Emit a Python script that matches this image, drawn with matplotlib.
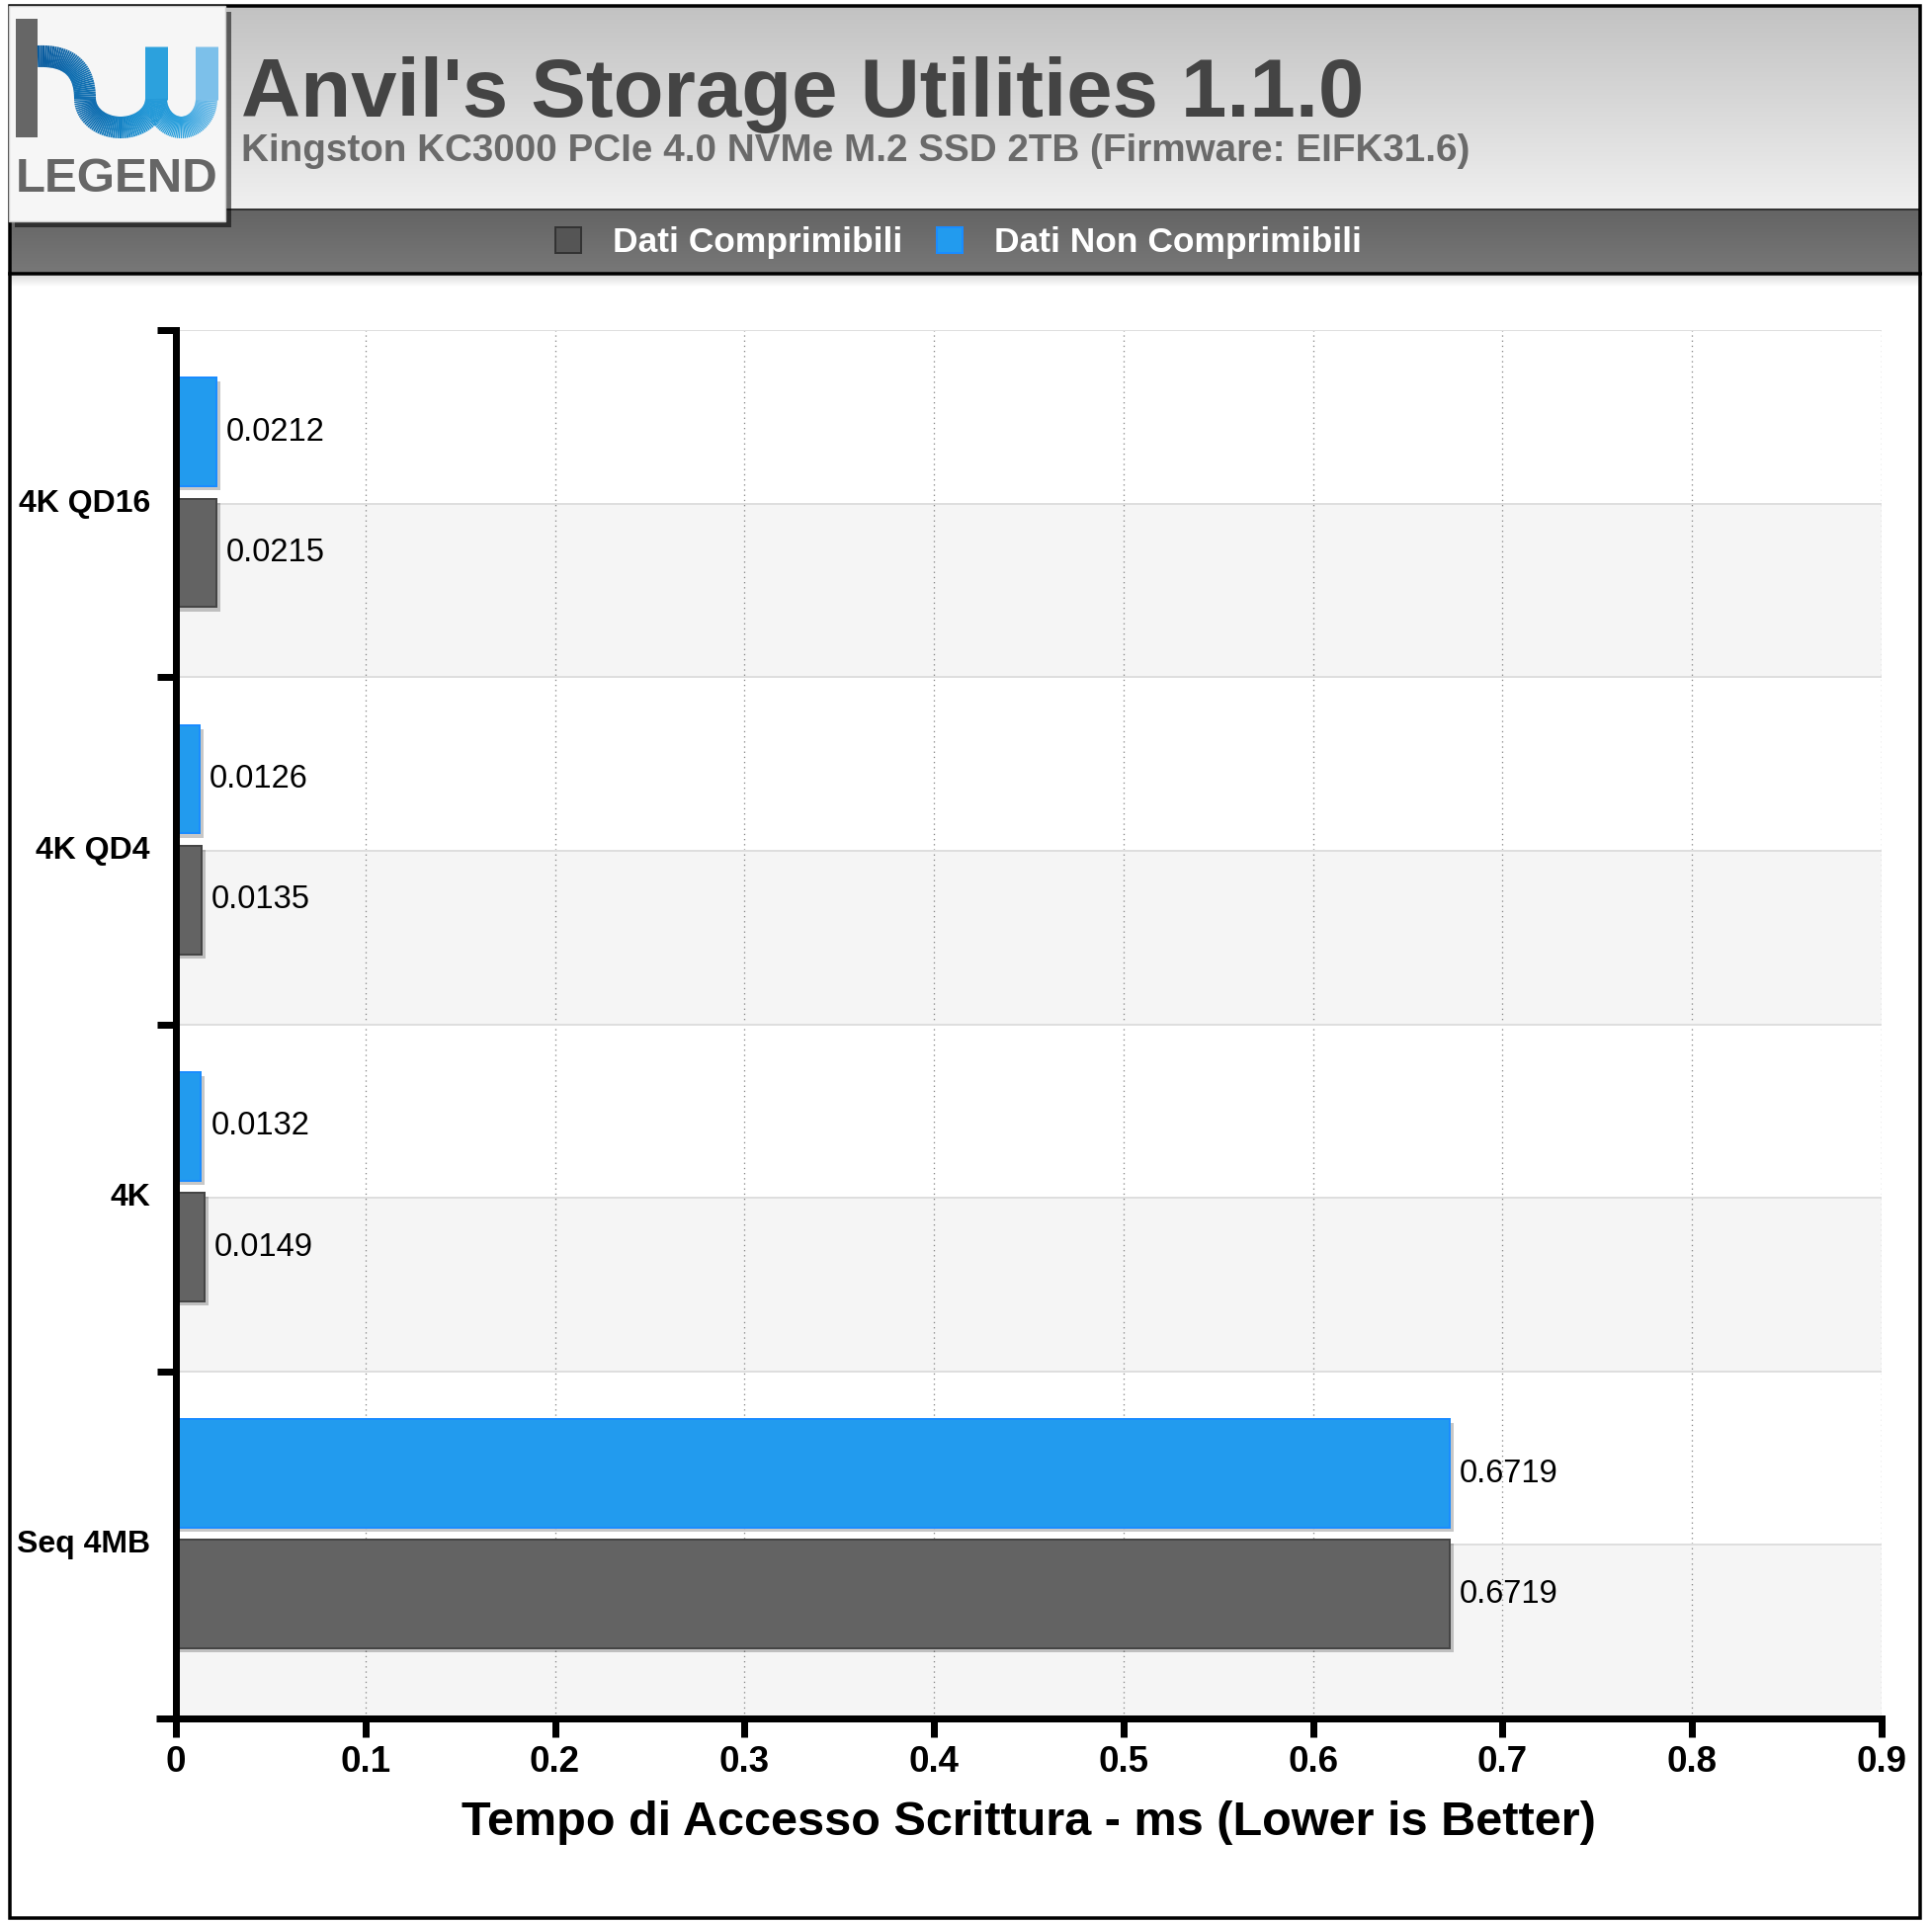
import numpy as np
import matplotlib
matplotlib.use("Agg")
import matplotlib.pyplot as plt
import matplotlib.patheffects as pe
from matplotlib import font_manager
from matplotlib.patches import Rectangle
from matplotlib.collections import LineCollection
from matplotlib.colors import LinearSegmentedColormap

# data
categories = ["4K QD16", "4K QD4", "4K", "Seq 4MB"]
compressible = [0.0215, 0.0135, 0.0149, 0.6719]
incompressible = [0.0212, 0.0126, 0.0132, 0.6719]
series_names = ["Dati Comprimibili", "Dati Non Comprimibili"]
x_ticks = [0, 0.1, 0.2, 0.3, 0.4, 0.5, 0.6, 0.7, 0.8, 0.9]
x_tick_labels = ["0", "0.1", "0.2", "0.3", "0.4", "0.5", "0.6", "0.7", "0.8", "0.9"]
title = "Anvil's Storage Utilities 1.1.0"
subtitle = "Kingston KC3000 PCIe 4.0 NVMe M.2 SSD 2TB (Firmware: EIFK31.6)"
xlabel = "Tempo di Accesso Scrittura - ms (Lower is Better)"

W, H, DPI = 1955, 1946, 100
PX = 72.0 / DPI  # points per pixel
FONT = "Liberation Sans"
plt.rcParams["font.family"] = [FONT, "DejaVu Sans"]

try:
    font_manager.findfont("Liberation Sans Narrow", fallback_to_default=False)
    NARROW, LOGO_SIZE = "Liberation Sans Narrow", 43
except ValueError:
    NARROW, LOGO_SIZE = FONT, 35.5

GRAY, GRAY_EDGE = "#636363", "#454545"
BLUE, BLUE_EDGE = "#229bee", "#1a8cff"

fig = plt.figure(figsize=(W / DPI, H / DPI), dpi=DPI)
fig.patch.set_facecolor("white")

# background layer in pixel coordinates (header, band, logo, frame)
bg = fig.add_axes([0, 0, 1, 1], zorder=0)
bg.axis("off")

head_cmap = LinearSegmentedColormap.from_list("head", ["#c2c2c2", "#f0f0f0"])
band_cmap = LinearSegmentedColormap.from_list("band", ["#646464", "#787878"])
grad = np.linspace(0, 1, 256).reshape(-1, 1)
bg.imshow(grad, extent=[10, 1943, 212, 6], aspect="auto", cmap=head_cmap, zorder=1)
bg.imshow(grad, extent=[10, 1943, 277, 212], aspect="auto", cmap=band_cmap, zorder=1)
bg.imshow(grad, extent=[10, 1943, 290, 277], aspect="auto",
          cmap=LinearSegmentedColormap.from_list("sh", ["#d8d8d8", "#ffffff"]), zorder=1)
bg.plot([10, 1943], [212, 212], color="#333333", lw=2 * PX, zorder=2)
bg.plot([10, 1943], [277, 277], color="black", lw=3.5 * PX, zorder=2)
bg.add_patch(Rectangle((10, 6), 1933, 1935, fill=False, edgecolor="black",
                       lw=3.5 * PX, zorder=3))

# logo box
logo = Rectangle((9, 6), 219, 218, facecolor="#f6f6f6", edgecolor="#cccccc",
                 lw=1, zorder=4)
logo.set_path_effects([pe.SimplePatchShadow(offset=(4, -4), shadow_rgbFace="black",
                                            alpha=0.55), pe.Normal()])
bg.add_patch(logo)
bg.add_patch(Rectangle((16, 19), 22, 120, facecolor="#666666", lw=0, zorder=5))

logo_cmap = LinearSegmentedColormap.from_list(
    "logo", ["#0a5495", "#0d65a8", "#1a8ccd", "#2aa0dd", "#7cc0ea"])


def stroke(xs, ys, lw):
    pts = np.column_stack([xs, ys])
    segs = np.stack([pts[:-1], pts[1:]], axis=1)
    lc = LineCollection(segs, cmap=logo_cmap, linewidths=lw * PX,
                        capstyle="butt", joinstyle="round", zorder=5)
    lc.set_array((segs[:, 0, 0] - 38) / (215 - 38) - (segs[:, 0, 1] - 139) / 600)
    lc.set_clim(0, 1.1)
    bg.add_collection(lc)


t = np.linspace(0, 1, 40)
# h shoulder
stroke((1 - t) ** 2 * 38 + 2 * (1 - t) * t * 86 + t ** 2 * 86,
       (1 - t) ** 2 * 57 + 2 * (1 - t) * t * 55 + t ** 2 * 100, 22)
# first bowl of the w
a = np.linspace(0, np.pi, 60)
stroke(122 - 36 * np.cos(a), 100 + 29 * np.sin(a), 22)
stroke([158, 158], [47, 101], 23)
# second bowl and right leg
stroke(183.5 - 25.5 * np.cos(a), 100 + 29 * np.sin(a), 22)
stroke([209, 209], [47, 101], 23)

bg.text(118, 194, "LEGEND", ha="center", va="baseline", fontsize=LOGO_SIZE,
        fontweight="bold", family=NARROW, color="#666666", zorder=6)

bg.text(244, 118, title, ha="left", va="baseline", fontsize=60,
        fontweight="bold", color="#444444", zorder=5)
bg.text(244, 163, subtitle, ha="left", va="baseline", fontsize=27.8,
        fontweight="bold", color="#6a6a6a", zorder=5)

# extension of the x axis line to the left of the y axis
bg.plot([158, 181], [1739, 1739], color="black", lw=7 * PX,
        solid_capstyle="butt", zorder=5)

bg.set_xlim(0, W)
bg.set_ylim(H, 0)

# main chart
ax_l, ax_r, ax_t, ax_b = 178, 1904, 334, 1739
ax = fig.add_axes([ax_l / W, 1 - ax_b / H, (ax_r - ax_l) / W, (ax_b - ax_t) / H],
                  zorder=1)
ax.set_facecolor("none")

y = np.arange(len(categories))[::-1]
off_blue, off_gray, bh = 0.206, -0.142, 0.313

for yc in y:
    ax.axhspan(yc - 0.5, yc, color="#f5f5f5", lw=0, zorder=0)
for yl in np.arange(-0.5, len(categories), 0.5):
    ax.axhline(yl, color="#dedede", lw=2 * PX, zorder=0.6)

shadow = [pe.SimplePatchShadow(offset=(3, -3), shadow_rgbFace="black", alpha=0.22),
          pe.Normal()]
b_blue = ax.barh(y + off_blue, incompressible, height=bh, color=BLUE,
                 edgecolor=BLUE_EDGE, lw=2 * PX, zorder=3)
b_gray = ax.barh(y + off_gray, compressible, height=bh, color=GRAY,
                 edgecolor=GRAY_EDGE, lw=2 * PX, zorder=3)
for bar in list(b_blue) + list(b_gray):
    bar.set_path_effects(shadow)

for bars, vals in ((b_blue, incompressible), (b_gray, compressible)):
    for bar, v in zip(bars, vals):
        ax.annotate(f"{v:.4f}", (v, bar.get_y() + bar.get_height() / 2),
                    xytext=(10 * PX, 0), textcoords="offset points",
                    ha="left", va="center", fontsize=23.5, color="black", zorder=4)

ax.set_xlim(0, 0.9)
ax.set_ylim(-0.5, len(categories) - 0.5)
ax.set_xticks(x_ticks)
ax.set_xticklabels(x_tick_labels, fontsize=26.5, fontweight="bold")
ax.set_yticks(np.arange(-0.5, len(categories), 1.0))
ax.set_yticklabels([])
ax.tick_params(axis="x", direction="out", length=19 * PX, width=7 * PX, pad=6)
ax.tick_params(axis="y", direction="out", length=19 * PX, width=7 * PX)
ax.grid(axis="x", linestyle=(0, (1, 3)), color="#888888", lw=1.3 * PX, zorder=0.5)
ax.set_axisbelow(True)

for name in ("top", "right"):
    ax.spines[name].set_visible(False)
for name in ("left", "bottom"):
    ax.spines[name].set_linewidth(7 * PX)
    ax.spines[name].set_color("black")
    ax.spines[name].set_zorder(5)

lbl_x = -(ax_l - 152) / (ax_r - ax_l)
for yc, cat in zip(y, categories):
    ax.text(lbl_x, yc, cat, transform=ax.get_yaxis_transform(), ha="right",
            va="center", fontsize=23, fontweight="bold", color="black")

ax.set_xlabel(xlabel, fontsize=35, fontweight="bold", labelpad=15)

# legend in the dark band
handles = [Rectangle((0, 0), 1, 1, facecolor="#555555", edgecolor="#333333", lw=2 * PX),
           Rectangle((0, 0), 1, 1, facecolor=BLUE, edgecolor=BLUE_EDGE, lw=2 * PX)]
fig.legend(handles, series_names, loc="center", bbox_to_anchor=(970 / W, 1 - 246 / H),
           ncol=2, frameon=False, prop={"family": FONT, "weight": "bold", "size": 25.5},
           labelcolor="white", handlelength=0.72, handleheight=0.72,
           handletextpad=0.9, columnspacing=1.0)

fig.savefig("out.png", dpi=DPI)
